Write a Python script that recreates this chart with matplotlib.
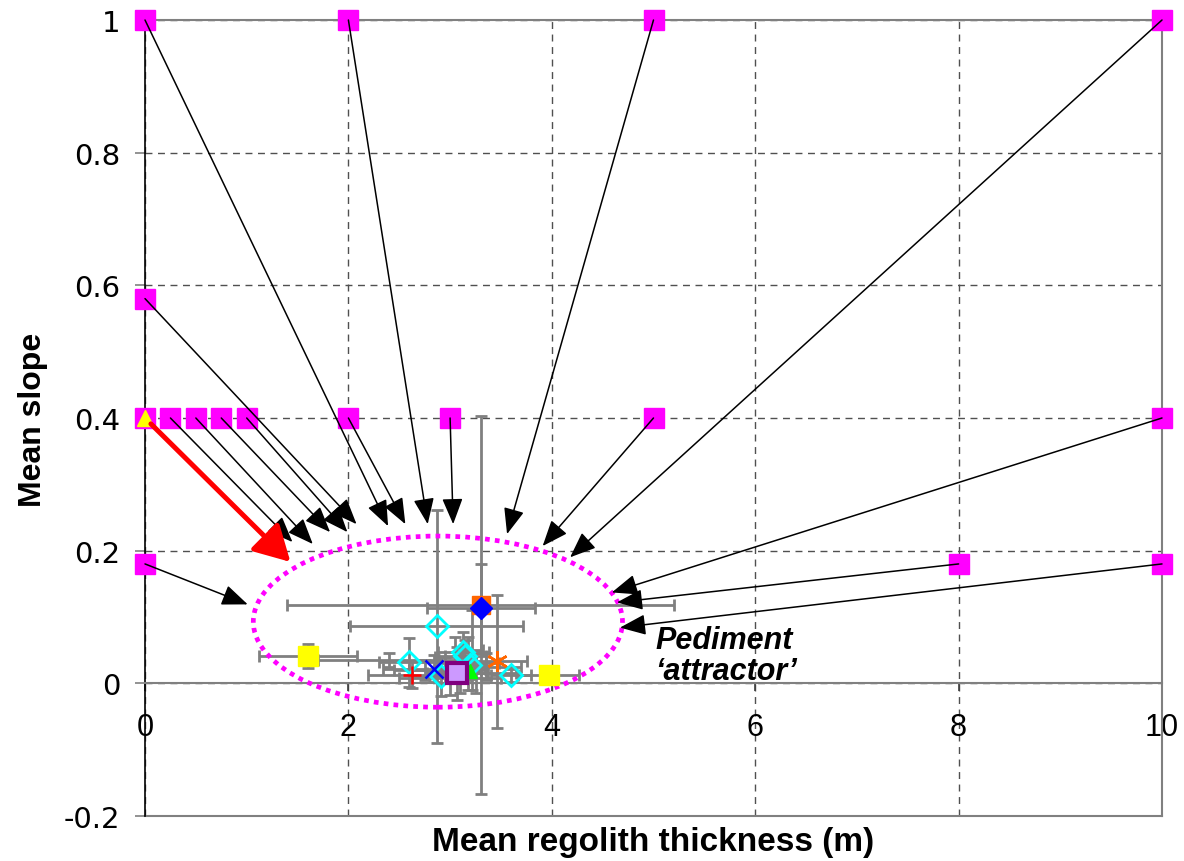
import matplotlib
matplotlib.use('Agg')
import matplotlib.pyplot as plt
from matplotlib.patches import Ellipse

plt.rcParams['font.family'] = ['Liberation Sans', 'DejaVu Sans']

# starting conditions (magenta squares) and where each run ends up
start_x = [0.25, 0.5, 0.75, 1.0, 0, 0, 2, 2, 3, 5, 5, 10, 10, 8, 10, 0]
start_y = [0.4, 0.4, 0.4, 0.4, 0.58, 1, 0.4, 1, 0.4, 1, 0.4, 1, 0.4, 0.18, 0.18, 0.18]
end_x = [1.45, 1.65, 1.82, 1.99, 2.08, 2.39, 2.56, 2.78, 3.03, 3.56, 3.91, 4.18, 4.59, 4.64, 4.67, 1.01]
end_y = [0.213, 0.21, 0.228, 0.228, 0.24, 0.237, 0.24, 0.24, 0.24, 0.225, 0.207, 0.19, 0.137, 0.122, 0.084, 0.119]

# the highlighted run (yellow triangle, red arrow)
red_start = (0, 0.4)
red_end = (1.43, 0.183)

# final states with error bars
orange_x, orange_y, orange_xerr, orange_yerr = [3.30], [0.118], [1.9], [0.285]
blue_x, blue_y, blue_xerr, blue_yerr = [3.30], [0.113], [0.53], [0.067]
cyan_x = [2.87, 2.60, 3.13, 3.15, 3.20, 2.91, 3.60]
cyan_y = [0.086, 0.032, 0.047, 0.041, 0.027, 0.011, 0.012]
cyan_xerr = [0.85, 0.3, 0.25, 0.2, 0.15, 0.3, 0.2]
cyan_yerr = [0.176, 0.037, 0.03, 0.025, 0.02, 0.03, 0.01]
yellow_x = [1.60, 3.97]
yellow_y = [0.041, 0.012]
yellow_xerr = [0.48, 0.3]
yellow_yerr = [0.018, 0.005]
cross_x, cross_y, cross_xerr, cross_yerr = [2.84], [0.022], [0.5], [0.02]
plus_x, plus_y, plus_xerr, plus_yerr = [2.63], [0.013], [0.44], [0.02]
star_x, star_y, star_xerr, star_yerr = [3.46], [0.033], [0.3], [0.1]
purple_x, purple_y, purple_xerr, purple_yerr = [3.07], [0.015], [0.3], [0.04]
green_x, green_y = [3.20], [0.018]
# runs whose markers are hidden in the cluster
gray_x = [3.05, 3.10, 3.18, 3.22, 2.95, 3.00, 2.75, 3.25, 3.35, 2.40]
gray_y = [0.040, 0.020, 0.030, 0.050, 0.020, 0.008, 0.020, 0.015, 0.025, 0.035]
gray_xerr = [0.2, 0.25, 0.3, 0.1, 0.35, 0.5, 0.3, 0.4, 0.35, 0.7]
gray_yerr = [0.03, 0.035, 0.04, 0.06, 0.02, 0.025, 0.015, 0.03, 0.02, 0.01]

xticks = [0, 2, 4, 6, 8, 10]
yticks = [-0.2, 0, 0.2, 0.4, 0.6, 0.8, 1]
ytick_labels = ['-0.2', '0', '0.2', '0.4', '0.6', '0.8', '1']

GRAY = '#808080'

fig = plt.figure(figsize=(11.84, 8.62), dpi=100)
ax = fig.add_axes([145 / 1184, 1 - 817 / 862, 1017 / 1184, 796 / 862])
ax.set_xlim(0, 10)
ax.set_ylim(-0.2, 1)

# frame: y axis black, x axis crossing at 0, grey border
ax.spines['bottom'].set_position(('data', 0))
ax.spines['bottom'].set_color(GRAY)
ax.spines['bottom'].set_linewidth(1.5)
ax.spines['left'].set_color('black')
ax.spines['left'].set_linewidth(1.2)
for s in ['top', 'right']:
    ax.spines[s].set_color(GRAY)
    ax.spines[s].set_linewidth(1.5)
ax.axhline(-0.2, color=GRAY, lw=1.5, clip_on=False)

ax.set_xticks(xticks)
ax.set_xticklabels([str(t) for t in xticks])
ax.set_yticks(yticks)
ax.set_yticklabels(ytick_labels, family=['DejaVu Sans'])
ax.tick_params(axis='x', direction='out', length=6, width=1.2, color='#404040',
               labelsize=22, pad=15)
ax.tick_params(axis='y', direction='out', length=7, width=1.2, color=GRAY,
               labelsize=21, pad=11)
ax.grid(True, color='#505050', linestyle=(0, (5, 4)), lw=1)
ax.set_axisbelow(True)

# error bars
eb = dict(fmt='none', ecolor=GRAY, elinewidth=2, capsize=4, capthick=2, zorder=3)
ax.errorbar(gray_x, gray_y, xerr=gray_xerr, yerr=gray_yerr, **eb)
ax.errorbar(orange_x, orange_y, xerr=orange_xerr, yerr=orange_yerr, **eb)
ax.errorbar(blue_x, blue_y, xerr=blue_xerr, yerr=blue_yerr, **eb)
ax.errorbar(cyan_x, cyan_y, xerr=cyan_xerr, yerr=cyan_yerr, **eb)
ax.errorbar(yellow_x, yellow_y, xerr=yellow_xerr, yerr=yellow_yerr, **eb)
ax.errorbar(cross_x, cross_y, xerr=cross_xerr, yerr=cross_yerr, **eb)
ax.errorbar(plus_x, plus_y, xerr=plus_xerr, yerr=plus_yerr, **eb)
ax.errorbar(star_x, star_y, xerr=star_xerr, yerr=star_yerr, **eb)
ax.errorbar(purple_x, purple_y, xerr=purple_xerr, yerr=purple_yerr, **eb)

# markers
ax.plot(orange_x, orange_y, 's', color='#FF6600', ms=13, zorder=5)
ax.plot(blue_x, blue_y, 'D', color='#0000FF', ms=11, zorder=5)
ax.plot(cyan_x, cyan_y, 'D', mfc='none', mec='#00FFFF', mew=2, ms=11, zorder=5)
ax.plot(yellow_x, yellow_y, 's', color='#FFFF00', ms=14, zorder=5)
ax.plot(cross_x, cross_y, 'x', color='#0000FF', ms=13, mew=1.8, zorder=5)
ax.plot(plus_x, plus_y, '+', color='#FF0000', ms=13, mew=1.8, zorder=5)
ax.plot(star_x, star_y, marker=(6, 2, 0), ls='none', color='#FF6600', ms=15, mew=1.8, zorder=5)
ax.plot(green_x, green_y, '^', color='#00FF00', ms=10, zorder=5)
ax.plot(purple_x, purple_y, 's', mfc='#CC99FF', mec='#800080', mew=3, ms=14, zorder=5)

# attractor ellipse
ax.add_patch(Ellipse((2.88, 0.093), 3.63, 0.258, fill=False, edgecolor='#FF00FF',
                     lw=3.4, linestyle=(0, (1, 1.1)), zorder=4))

# starting points
ax.plot(start_x, start_y, 's', color='#FF00FF', ms=15, clip_on=False, zorder=5)
ax.plot([red_start[0]], [red_start[1]], 's', color='#FF00FF', ms=15, clip_on=False, zorder=5)
ax.plot([red_start[0]], [red_start[1]], '^', color='#FFFF00', ms=12, clip_on=False, zorder=6)

# trajectories
for sx, sy, ex, ey in zip(start_x, start_y, end_x, end_y):
    ax.annotate('', xy=(ex, ey), xytext=(sx, sy), annotation_clip=False, zorder=7,
                arrowprops=dict(arrowstyle='-|>,head_length=0.8,head_width=0.32',
                                color='black', lw=1.1, shrinkA=0, shrinkB=0,
                                mutation_scale=20))
ax.annotate('', xy=red_end, xytext=red_start, annotation_clip=False, zorder=7,
            arrowprops=dict(arrowstyle='-|>,head_length=0.72,head_width=0.4',
                            color='#FF0000', lw=3.6, shrinkA=6, shrinkB=0,
                            mutation_scale=30))

ax.text(5.02, 0.042, 'Pediment\n\u2018attractor\u2019', fontsize=22, fontweight='bold',
        style='italic', ha='left', va='center', linespacing=1.05, zorder=8)

fig.text(653 / 1184, 1 - 843 / 862, 'Mean regolith thickness (m)', ha='center',
         va='center', fontsize=24, fontweight='bold')
fig.text(33 / 1184, 1 - 420 / 862, 'Mean slope', ha='center', va='center',
         rotation=90, fontsize=23, fontweight='bold')

fig.savefig('out.png', dpi=100)
